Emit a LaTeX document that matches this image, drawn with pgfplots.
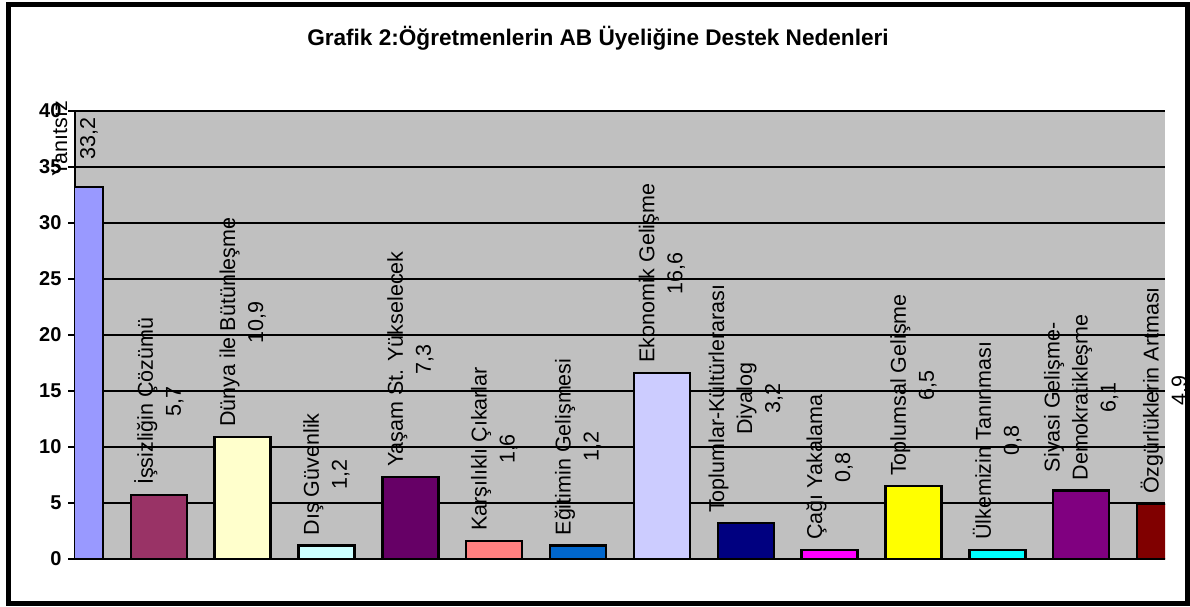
\documentclass[border=0pt]{standalone}
\usepackage{pgfplots}
\pgfplotsset{compat=1.18}
\usepackage{fontspec}
\setmainfont{Liberation Sans}
\definecolor{bggrey}{HTML}{C0C0C0}
\definecolor{c1}{HTML}{9999FF}
\definecolor{c2}{HTML}{993366}
\definecolor{c3}{HTML}{FFFFCC}
\definecolor{c4}{HTML}{CCFFFF}
\definecolor{c5}{HTML}{660066}
\definecolor{c6}{HTML}{FF8080}
\definecolor{c7}{HTML}{0066CC}
\definecolor{c8}{HTML}{CCCCFF}
\definecolor{c9}{HTML}{000080}
\definecolor{c10}{HTML}{FF00FF}
\definecolor{c11}{HTML}{FFFF00}
\definecolor{c12}{HTML}{00FFFF}
\definecolor{c13}{HTML}{800080}
\definecolor{c14}{HTML}{800000}
\pgfplotsset{
  lbl/.style={nodes near coords={#1\\\pgfmathprintnumber[use comma,fixed,fixed zerofill,precision=1]{\pgfplotspointmeta}}},
}
\begin{document}
\begin{tikzpicture}[x=1pt,y=1pt]
\useasboundingbox (0,0) rectangle (1190,606);
\draw[line width=5pt] (8,3) rectangle (1187,601);
\node[font=\bfseries\fontsize{22.6}{27}\selectfont] at (598,568) {Grafik 2:Öğretmenlerin AB Üyeliğine Destek Nedenleri};
\begin{axis}[
  at={(75pt,47pt)}, anchor=south west,
  scale only axis, width=1090pt, height=448pt,
  xmin=1, xmax=14, ymin=0, ymax=40,
  ytick={0,5,...,40}, xtick=\empty,
  axis x line*=bottom, axis y line*=left,
  axis line style={line width=2pt, -, black},
  ymajorgrids, grid style={black, line width=2pt},
  axis background/.style={fill=bggrey},
  ybar, bar width=56pt,
  every axis plot/.append style={bar shift=0pt, draw=black, line width=2.5pt},
  clip mode=individual,
  tick style={black, line width=2pt},
  major tick length=7pt,
  tick align=outside,
  yticklabel style={font=\bfseries\fontsize{20}{24}\selectfont, xshift=-3pt},
  /pgf/number format/assume math mode=true,
  every node near coord/.append style={rotate=90, anchor=west, align=center,
    font=\fontsize{21.5}{28}\selectfont, inner xsep=9pt, inner ysep=0pt, black},
]
\addplot[fill=c1, bar shift=0pt, lbl={Yanıtsız}] coordinates {(1,33.2)};
\addplot[fill=c2, bar shift=0pt, lbl={İşsizliğin Çözümü}] coordinates {(2,5.7)};
\addplot[fill=c3, bar shift=0pt, lbl={Dünya ile Bütünleşme}] coordinates {(3,10.9)};
\addplot[fill=c4, bar shift=0pt, lbl={Dış Güvenlik}] coordinates {(4,1.2)};
\addplot[fill=c5, bar shift=0pt, lbl={Yaşam St. Yükselecek}] coordinates {(5,7.3)};
\addplot[fill=c6, bar shift=0pt, lbl={Karşılıklı Çıkarlar}] coordinates {(6,1.6)};
\addplot[fill=c7, bar shift=0pt, lbl={Eğitimin Gelişmesi}] coordinates {(7,1.2)};
\addplot[fill=c8, bar shift=0pt, lbl={Ekonomik Gelişme}] coordinates {(8,16.6)};
\addplot[fill=c9, bar shift=0pt, lbl={Toplumlar-Kültürlerarası\\Diyalog}] coordinates {(9,3.2)};
\addplot[fill=c10, bar shift=0pt, lbl={Çağı Yakalama}] coordinates {(10,0.8)};
\addplot[fill=c11, bar shift=0pt, lbl={Toplumsal Gelişme}] coordinates {(11,6.5)};
\addplot[fill=c12, bar shift=0pt, lbl={Ülkemizin Tanınması}] coordinates {(12,0.8)};
\addplot[fill=c13, bar shift=0pt, lbl={Siyasi Gelişme-\\Demokratikleşme}] coordinates {(13,6.1)};
\addplot[fill=c14, bar shift=0pt, lbl={Özgürlüklerin Artması}] coordinates {(14,4.9)};
\end{axis}
\end{tikzpicture}
\end{document}
